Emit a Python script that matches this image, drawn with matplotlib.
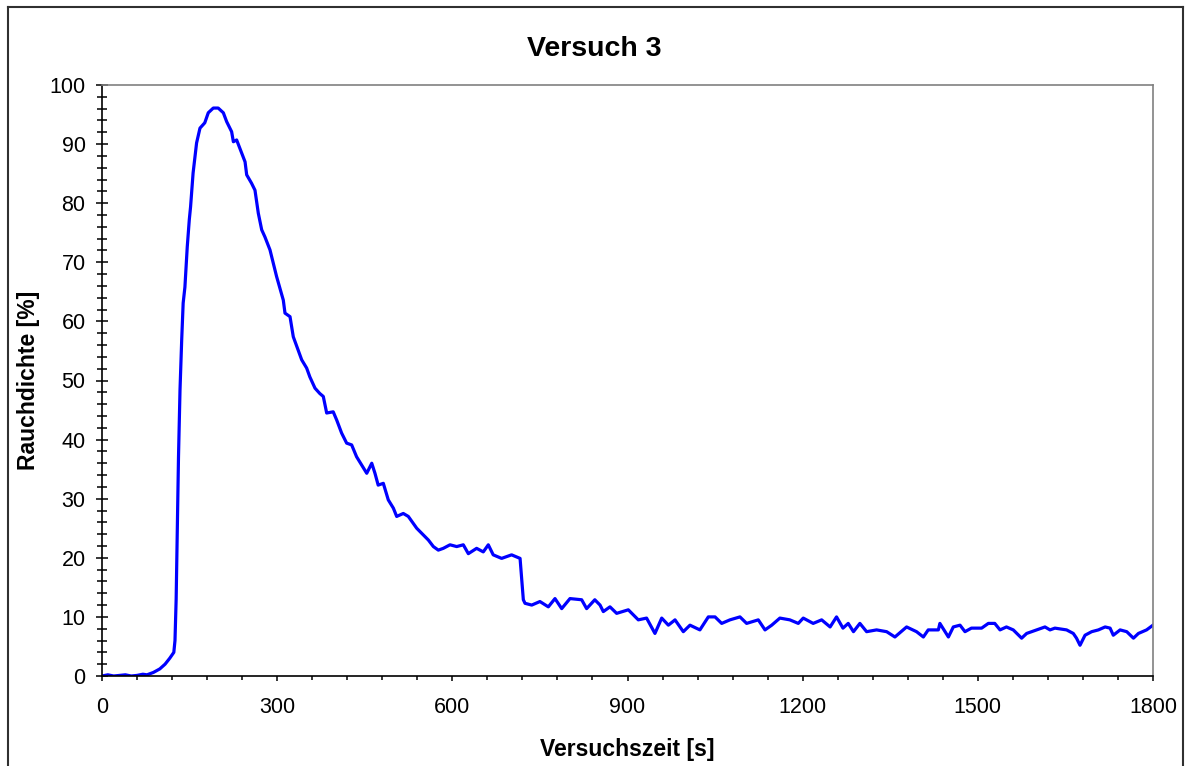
import matplotlib
matplotlib.use('Agg')
import matplotlib.pyplot as plt
from matplotlib.lines import Line2D
from matplotlib.ticker import MultipleLocator

# Versuch 3 - Rauchdichte über Versuchszeit
zeit = [0, 10, 20, 30, 40, 50, 60, 70, 77, 88, 99, 108, 116, 123, 125, 127, 129, 131,
        133.6, 136.5, 139, 142, 146, 149.5, 151.7, 156, 162, 167.8, 176, 182, 190.6,
        199, 207.8, 213.5, 222, 225, 230.6, 236, 245, 247.8, 256, 262, 267.7, 273.5,
        279, 287.7, 299, 310.5, 313.4, 322, 327.6, 342, 350.5, 356, 364.8, 373, 379,
        384.8, 396, 402, 410.4, 419, 427.6, 436, 444.8, 453.4, 462, 467.5, 473, 481.8,
        490.3, 499, 504.7, 516, 524.6, 539, 550, 559, 567.5, 576, 584.5, 596, 607.5,
        618.8, 627.4, 641.6, 653, 661.6, 670, 684.4, 701.5, 716, 721.6, 724.5, 736,
        750, 764.4, 775.8, 787.3, 801.5, 821.5, 830, 844, 853, 858.6, 870, 881.4,
        901.4, 918.5, 932.7, 947, 958.6, 970, 981.4, 995.6, 1007, 1024, 1038.4,
        1049.9, 1061.3, 1075.5, 1092.6, 1104, 1124, 1135.5, 1147, 1161, 1178, 1192.5,
        1201, 1218, 1232.5, 1247, 1258, 1269, 1278, 1287, 1298, 1309.5, 1326.6,
        1343.8, 1358, 1378, 1395, 1406.7, 1415, 1432.4, 1435, 1449.6, 1458, 1469.5,
        1478, 1489, 1506.5, 1518, 1529, 1538, 1549, 1560.7, 1575, 1583.6, 1600.7,
        1615, 1623.6, 1632, 1652, 1663.5, 1669, 1675, 1683.6, 1695, 1706.5, 1718,
        1726.5, 1732, 1743.7, 1755, 1766.5, 1775, 1789, 1800]
rauch = [0.0, 0.2, 0.0, 0.1, 0.2, 0.0, 0.1, 0.3, 0.2, 0.6, 1.2, 2.0, 3.0, 4.0, 6.0, 13.0, 25.0, 37.0,
         48.4, 56.9, 63.1, 65.8, 72.6, 77.2, 79.4, 85.1, 90.2, 92.7, 93.6, 95.3, 96.1,
         96.1, 95.3, 93.8, 92.1, 90.4, 90.7, 89.3, 87.0, 84.8, 83.4, 82.2, 78.3, 75.5,
         74.3, 72.1, 67.6, 63.6, 61.4, 60.8, 57.4, 53.5, 52.1, 50.6, 48.7, 47.8, 47.3,
         44.5, 44.7, 43.3, 41.1, 39.4, 39.1, 37.1, 35.7, 34.3, 36.0, 34.3, 32.3, 32.6,
         29.8, 28.4, 27.0, 27.5, 27.0, 25.0, 23.9, 23.0, 21.9, 21.3, 21.6, 22.2, 21.9,
         22.2, 20.7, 21.6, 21.0, 22.2, 20.5, 19.9, 20.5, 19.9, 12.9, 12.3, 12.0,
         12.6, 11.7, 13.1, 11.4, 13.1, 12.9, 11.4, 12.9, 12.0, 10.9, 11.7, 10.6,
         11.2, 9.5, 9.8, 7.2, 9.8, 8.6, 9.5, 7.5, 8.6, 7.8, 10.0,
         10.0, 8.9, 9.5, 10.0, 8.9, 9.5, 7.8, 8.6, 9.8, 9.5, 8.9,
         9.8, 8.9, 9.5, 8.3, 10.0, 8.1, 8.9, 7.5, 8.9, 7.5, 7.8,
         7.5, 6.6, 8.3, 7.5, 6.6, 7.8, 7.8, 8.9, 6.6, 8.3, 8.6,
         7.5, 8.1, 8.1, 8.9, 8.9, 7.8, 8.3, 7.8, 6.4, 7.2, 7.8,
         8.3, 7.8, 8.1, 7.8, 7.2, 6.4, 5.2, 6.9, 7.5, 7.8, 8.3,
         8.1, 6.9, 7.8, 7.5, 6.4, 7.2, 7.8, 8.6]

titel = 'Versuch 3'
x_label = 'Versuchszeit [s]'
y_label = 'Rauchdichte [%]'

plt.rcParams['font.family'] = ['Liberation Sans', 'DejaVu Sans']

fig = plt.figure(figsize=(11.89, 7.66), dpi=100)
ax = fig.add_axes([102 / 1189, 1 - 676 / 766, (1153 - 102) / 1189, (676 - 85) / 766])

ax.plot(zeit, rauch, color='#0000ff', linewidth=2.3, solid_joinstyle='round')

ax.set_xlim(0, 1800)
ax.set_ylim(0, 100)
ax.xaxis.set_major_locator(MultipleLocator(300))
ax.xaxis.set_minor_locator(MultipleLocator(60))
ax.yaxis.set_major_locator(MultipleLocator(10))
ax.yaxis.set_minor_locator(MultipleLocator(2))

ax.tick_params(axis='y', which='major', direction='inout', length=8.6, width=1.1,
               labelsize=15.5, pad=7.5)
ax.tick_params(axis='y', which='minor', direction='inout', length=6.5, width=1.1)
ax.tick_params(axis='x', which='major', direction='out', length=3.8, width=1.1,
               labelsize=15.5, pad=11)
ax.tick_params(axis='x', which='minor', direction='out', length=2.6, width=1.1)

for s in ['left', 'bottom']:
    ax.spines[s].set_color('black')
    ax.spines[s].set_linewidth(1.2)
for s in ['top', 'right']:
    ax.spines[s].set_color('#808080')
    ax.spines[s].set_linewidth(1.2)

ax.set_xlabel(x_label, fontsize=16.5, fontweight='bold', labelpad=15)
ax.set_ylabel(y_label, fontsize=16.5, fontweight='bold', labelpad=7)
fig.text(0.5, 1 - 49 / 766, titel, ha='center', va='center', fontsize=20.5, fontweight='bold')

# Rahmen um das Diagramm
rahmen = dict(color='#303030', linewidth=1.5, transform=fig.transFigure)
fig.add_artist(Line2D([8 / 1189, 8 / 1189], [0, 1 - 7 / 766], **rahmen))
fig.add_artist(Line2D([8 / 1189, 1183 / 1189], [1 - 7 / 766, 1 - 7 / 766], **rahmen))
fig.add_artist(Line2D([1183 / 1189, 1183 / 1189], [0, 1 - 7 / 766], **rahmen))

plt.savefig('out.png', dpi=100)
plt.close()
